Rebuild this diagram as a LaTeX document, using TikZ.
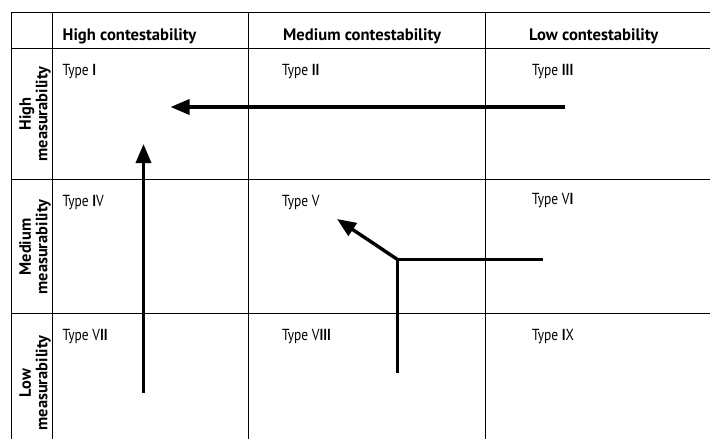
\documentclass[tikz,border=0pt]{standalone}
\usepackage{fontspec}
\setmainfont{PT Sans}
\newfontfamily\typefont{PT Sans}[FakeStretch=0.84]
\usetikzlibrary{arrows.meta}
\begin{document}
\begin{tikzpicture}[x=1pt, y=-1pt,
    grid/.style={line width=0.8pt},
    move/.style={line width=3.4pt},
    movetip/.style={move, -{Triangle[length=19pt, width=15pt]}},
    head/.style={anchor=base west, font=\fontsize{16.6}{18}\selectfont\bfseries, inner sep=0pt},
    rowlab/.style={rotate=90, align=center, font=\fontsize{16.4}{16.5}\selectfont\bfseries, inner sep=0pt},
    typelab/.style={anchor=base west, font=\fontsize{16}{18}\selectfont\typefont, inner sep=0pt}]
\useasboundingbox (0,0) rectangle (710,439);
\foreach \y in {12,48,179,313} \draw[grid] (11,\y) -- (710,\y);
\foreach \x in {11,52,248,485} \draw[grid] (\x,12) -- (\x,439);
\node[head] (hhigh) at (62.5,40) {High contestability};
\node[head] (hmed) at (283,40) {Medium contestability};
\node[head] (hlow) at (529,40) {Low contestability};
\node[rowlab] (rhigh) at (35,114) {High\\measurability};
\node[rowlab] (rmed) at (35,247) {Medium\\measurability};
\node[rowlab] (rlow) at (35,383) {Low\\measurability};
\node[typelab] (t1) at (62.5,75) {Type \textbf{I}};
\node[typelab] (t2) at (282,75) {Type \textbf{II}};
\node[typelab] (t3) at (532,75) {Type \textbf{III}};
\node[typelab] (t4) at (62.5,206.5) {Type \textbf{I}V};
\node[typelab] (t5) at (282,206.5) {Type V};
\node[typelab] (t6) at (532,204) {Type V\textbf{I}};
\node[typelab] (t7) at (62.5,340) {Type V\textbf{II}};
\node[typelab] (t8) at (282,340) {Type V\textbf{III}};
\node[typelab] (t9) at (532,340) {Type \textbf{I}X};
\coordinate (a) at (565,107);
\coordinate (atip) at (170.5,107);
\coordinate (b) at (143.5,393);
\coordinate (btip) at (143.5,144);
\coordinate (c) at (397.5,373);
\coordinate (corner) at (397.5,259.5);
\coordinate (cend) at (543,259.5);
\coordinate (ctip) at (337,219);
\draw[movetip] (a) -- (atip);
\draw[movetip] (b) -- (btip);
\draw[move] (c) -- (corner) -- (cend);
\draw[movetip] (corner) -- (ctip);
\end{tikzpicture}
\end{document}
